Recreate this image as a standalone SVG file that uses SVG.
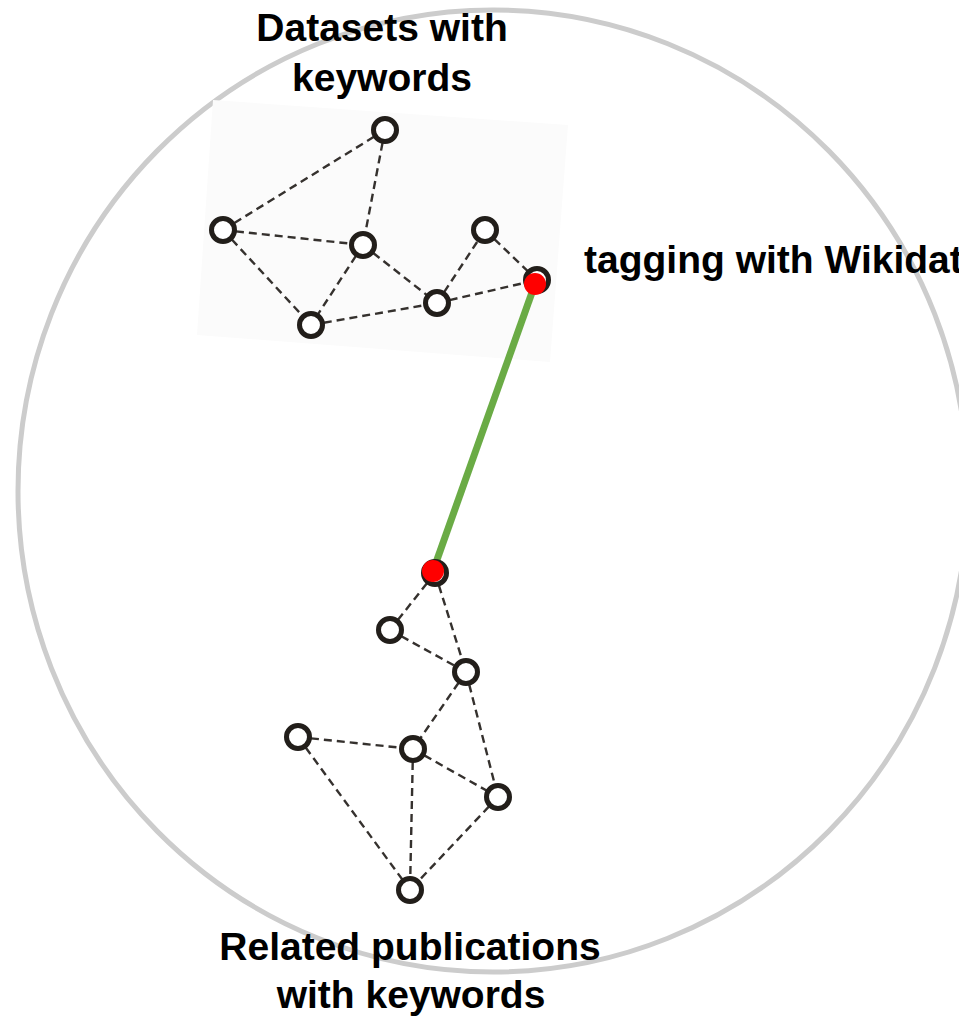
<svg xmlns="http://www.w3.org/2000/svg" width="959" height="1020" viewBox="0 0 959 1020">
<style>
.lbl{font-family:"Liberation Sans",Arial,sans-serif;font-weight:bold;font-size:39px;fill:#000}
.node{fill:#fff;stroke:#221e1a;stroke-width:5}
.red{fill:#ff0000}
.edge{stroke:#35312e;stroke-width:2.4;stroke-dasharray:8 5;fill:none}
</style>
<rect width="959" height="1020" fill="#fff"/>
<ellipse id="boundary" cx="493" cy="491" rx="475" ry="481" fill="none" stroke="#cccccc" stroke-width="5"/>
<polygon id="datasets-panel" points="213,100 568,125 550,362 197,335" fill="#fbfbfb"/>
<g id="connectors">
  <line class="edge" x1="385" y1="130" x2="223" y2="230"/>
  <line class="edge" x1="385" y1="130" x2="363" y2="245"/>
  <line class="edge" x1="223" y1="230" x2="363" y2="245"/>
  <line class="edge" x1="223" y1="230" x2="311" y2="325"/>
  <line class="edge" x1="363" y1="245" x2="311" y2="325"/>
  <line class="edge" x1="363" y1="245" x2="437" y2="303"/>
  <line class="edge" x1="311" y1="325" x2="437" y2="303"/>
  <line class="edge" x1="437" y1="303" x2="485" y2="230"/>
  <line class="edge" x1="485" y1="230" x2="537" y2="280"/>
  <line class="edge" x1="437" y1="303" x2="537" y2="280"/>
  <line class="edge" x1="435" y1="573" x2="390" y2="630"/>
  <line class="edge" x1="435" y1="573" x2="466" y2="672"/>
  <line class="edge" x1="390" y1="630" x2="466" y2="672"/>
  <line class="edge" x1="466" y1="672" x2="413" y2="749"/>
  <line class="edge" x1="466" y1="672" x2="498" y2="797"/>
  <line class="edge" x1="298" y1="737" x2="413" y2="749"/>
  <line class="edge" x1="298" y1="737" x2="410" y2="890"/>
  <line class="edge" x1="413" y1="749" x2="498" y2="797"/>
  <line class="edge" x1="413" y1="749" x2="410" y2="890"/>
  <line class="edge" x1="498" y1="797" x2="410" y2="890"/>
  <line id="wikidata-link" x1="535" y1="284" x2="433" y2="571" stroke="#6aab45" stroke-width="7"/>
</g>
<g id="top-a"><circle class="node" cx="385" cy="130" r="11.5"/></g>
<g id="top-b"><circle class="node" cx="223" cy="230" r="11.5"/></g>
<g id="top-c"><circle class="node" cx="363" cy="245" r="11.5"/></g>
<g id="top-d"><circle class="node" cx="485" cy="230" r="11.5"/></g>
<g id="top-e"><circle class="node" cx="311" cy="325" r="11.5"/></g>
<g id="top-f"><circle class="node" cx="437" cy="303" r="11.5"/></g>
<g id="top-link"><circle class="node" cx="537" cy="280" r="11.5"/><circle class="red" cx="535" cy="284" r="11"/></g>
<g id="bot-link"><circle class="node" cx="435" cy="573" r="11.5"/><circle class="red" cx="433" cy="571" r="11"/></g>
<g id="bot-i"><circle class="node" cx="390" cy="630" r="11.5"/></g>
<g id="bot-j"><circle class="node" cx="466" cy="672" r="11.5"/></g>
<g id="bot-k"><circle class="node" cx="298" cy="737" r="11.5"/></g>
<g id="bot-l"><circle class="node" cx="413" cy="749" r="11.5"/></g>
<g id="bot-m"><circle class="node" cx="498" cy="797" r="11.5"/></g>
<g id="bot-n"><circle class="node" cx="410" cy="890" r="11.5"/></g>
<g id="labels">
  <text class="lbl" x="382" y="41" text-anchor="middle">Datasets with</text>
  <text class="lbl" x="382" y="91" text-anchor="middle">keywords</text>
  <text class="lbl" x="584" y="273">tagging with Wikidata</text>
  <text class="lbl" x="410" y="960" text-anchor="middle">Related publications</text>
  <text class="lbl" x="411" y="1008" text-anchor="middle">with keywords</text>
</g>
</svg>
